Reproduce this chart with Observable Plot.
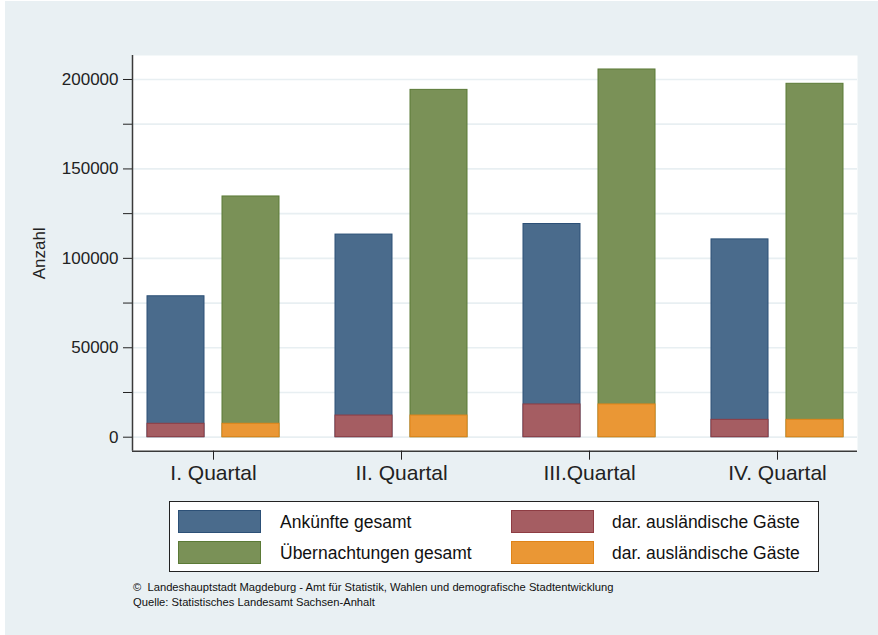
<!DOCTYPE html>
<html>
<head>
<meta charset="utf-8">
<script src="https://cdn.jsdelivr.net/npm/d3@7"></script>
<script src="https://cdn.jsdelivr.net/npm/@observablehq/plot@0.6"></script>
<style>
  html, body { margin: 0; padding: 0; background: #ffffff; }
  body { width: 878px; height: 635px; position: relative; overflow: hidden;
         font-family: "Liberation Sans", Arial, Helvetica, sans-serif; }
  #chart { position: absolute; left: 5px; top: 1px; width: 873px; height: 634px; background: #e9f0f3; }
  #bg, #fg { position: absolute; left: 0; top: 0; }
  #legend { position: absolute; left: 164px; top: 500px; width: 648px; height: 69px;
            background: #fff; border: 1.5px solid #222; }
  .sw { position: absolute; width: 81px; height: 21px; border: 1px solid; }
  .lt { position: absolute; font-size: 17.5px; color: #111; line-height: 22px; white-space: nowrap; }
  #caption { position: absolute; left: 128px; top: 579px; font-size: 11.2px; line-height: 15px; color: #111; white-space: pre; }
</style>
</head>
<body>
<div id="chart">
  <div id="bg"></div>
  <div id="fg"></div>
  <div id="legend"></div>
  <div id="caption"></div>
</div>
<script>
// ---- data ----
const quarters = ["I. Quartal", "II. Quartal", "III.Quartal", "IV. Quartal"];
const ankuenfte = [78800, 113300, 119200, 110600];
const uebernachtungen = [134600, 194200, 205600, 197600];
const auslAnkuenfte = [7500, 12100, 18300, 9700];
const auslUebernachtungen = [7500, 12100, 18300, 9700];
const seriesKeys = ["Ankünfte", "Übernachtungen"];
const legendLabels = ["Ankünfte gesamt", "dar. ausländische Gäste", "Übernachtungen gesamt", "dar. ausländische Gäste"];
const yTicks = [0, 25000, 50000, 75000, 100000, 125000, 150000, 175000, 200000];
const yLabel = "Anzahl";
const captionLines = ["©  Landeshauptstadt Magdeburg - Amt für Statistik, Wahlen und demografische Stadtentwicklung",
                      "Quelle: Statistisches Landesamt Sachsen-Anhalt"];

// ---- styles ----
const fills = {total: ["#4a6b8c", "#7a9157"], foreign: ["#a55d62", "#ea9735"]};
const strokes = {total: ["#2c5077", "#5b7a36"], foreign: ["#8e3c43", "#df8419"]};
const W = 873, H = 490;
const M = {left: 127, right: 21, top: 54, bottom: 40.3};
const yDomain = [-7828, 213419];
const gridColor = "#e8eff2";
const axisColor = "#3a3a3a";

const rows = [];
quarters.forEach((q, i) => {
  rows.push({quarter: q, series: seriesKeys[0], total: ankuenfte[i], foreign: auslAnkuenfte[i]});
  rows.push({quarter: q, series: seriesKeys[1], total: uebernachtungen[i], foreign: auslUebernachtungen[i]});
});

// ---- background layer: frame, grid, y axis, axis lines ----
const bg = Plot.plot({
  width: W, height: H,
  marginLeft: M.left, marginRight: M.right, marginTop: M.top, marginBottom: M.bottom,
  style: {background: "transparent", fontFamily: "'Liberation Sans', Arial, sans-serif", fontSize: "17px", color: "#222"},
  x: {domain: [0, 1], axis: null},
  y: {domain: yDomain, ticks: yTicks, tickFormat: d => (d % 50000 === 0 ? String(d) : ""),
      tickSize: 9, tickPadding: 5, label: null},
  marks: [
    Plot.frame({fill: "white", stroke: null}),
    Plot.ruleY(yTicks, {stroke: gridColor, strokeWidth: 1.7}),
    Plot.ruleX([0], {stroke: axisColor, strokeWidth: 1.5}),
    Plot.ruleY([yDomain[0]], {stroke: axisColor, strokeWidth: 1.5}),
    Plot.text([yLabel], {frameAnchor: "left", text: d => d, rotate: -90, dx: -93,
                         textAnchor: "middle", lineAnchor: "middle", fontSize: 17, fill: "#222"})
  ]
});
document.getElementById("bg").appendChild(bg);

// ---- foreground layer: faceted bars + quarter axis ----
function barsFor(kind, idx) {
  return Plot.barY(rows, {
    filter: d => d.series === seriesKeys[idx],
    x: "series", y: kind,
    fill: fills[kind][idx], stroke: strokes[kind][idx], strokeWidth: 1
  });
}
const fg = Plot.plot({
  width: W, height: H,
  marginLeft: M.left, marginRight: M.right, marginTop: M.top, marginBottom: M.bottom,
  style: {background: "transparent", fontFamily: "'Liberation Sans', Arial, sans-serif", fontSize: "21px", color: "#222"},
  facet: {data: rows, x: "quarter"},
  fx: {domain: quarters, paddingInner: 0.15, paddingOuter: 0, axis: "bottom", tickSize: 9, tickPadding: 5, label: null},
  x: {domain: seriesKeys, paddingInner: 0.244, paddingOuter: 0.183, axis: null},
  y: {domain: yDomain, axis: null},
  marks: [
    barsFor("total", 0), barsFor("total", 1),
    barsFor("foreign", 0), barsFor("foreign", 1)
  ]
});
document.getElementById("fg").appendChild(fg);

// ---- legend (2 x 2) ----
const legend = document.getElementById("legend");
const legendFills = [fills.total[0], fills.foreign[0], fills.total[1], fills.foreign[1]];
const legendStrokes = [strokes.total[0], strokes.foreign[0], strokes.total[1], strokes.foreign[1]];
legendLabels.forEach((lab, i) => {
  const row = Math.floor(i / 2), col = i % 2;
  const sw = document.createElement("div");
  sw.className = "sw";
  sw.style.left = (col ? 341 : 8) + "px";
  sw.style.top = (row ? 38.5 : 8) + "px";
  sw.style.background = legendFills[i];
  sw.style.borderColor = legendStrokes[i];
  legend.appendChild(sw);
  const t = document.createElement("div");
  t.className = "lt";
  t.style.left = (col ? 442 : 110) + "px";
  t.style.top = (row ? 39.5 : 9) + "px";
  t.textContent = lab;
  legend.appendChild(t);
});

document.getElementById("caption").textContent = captionLines.join("\n");
</script>
</body>
</html>
